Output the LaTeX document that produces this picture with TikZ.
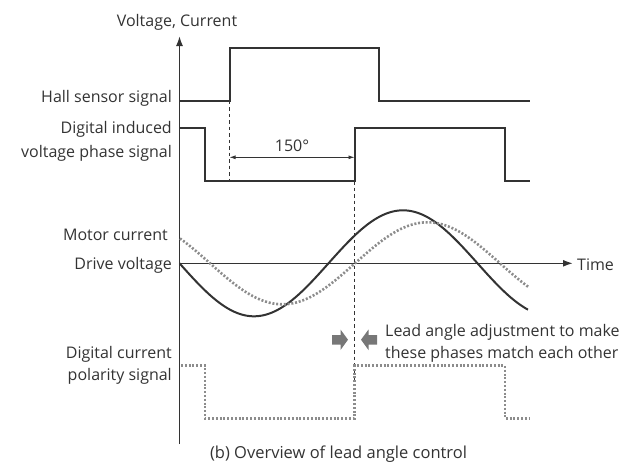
\documentclass[tikz,border=0pt]{standalone}
\usepackage{fontspec}
\setmainfont{Open Sans}
\usetikzlibrary{arrows.meta}
\definecolor{ink}{HTML}{333333}
\definecolor{dotc}{HTML}{8C8C8C}
\definecolor{blk}{HTML}{777777}
\begin{document}
\begin{tikzpicture}[x=1pt,y=-1pt,
  sig/.style={line width=2pt, draw=ink, line join=miter},
  dotsig/.style={line width=2.6pt, draw=dotc, dash pattern=on 2pt off 1.8pt},
  guide/.style={line width=0.9pt, draw=ink, dash pattern=on 3.5pt off 3pt},
  lbl/.style={font=\fontsize{16}{21.5}\selectfont, text=ink, inner sep=0pt},
  axisline/.style={line width=1.6pt, draw=ink, -{Latex[length=10pt,width=7pt]}},
  dim/.style={line width=0.9pt, draw=ink, {Latex[length=6pt,width=4pt]}-{Latex[length=6pt,width=4pt]}},
  blockarrow/.style={fill=blk, draw=none}]
\useasboundingbox (0,0) rectangle (634,464);

% axes
\coordinate (O) at (179.5,263.3);
\coordinate (ybot) at (179.5,444);
\coordinate (ytop) at (179.5,36);
\coordinate (xend) at (573,263.3);
\draw[axisline] (ybot) -- (ytop);
\draw[axisline] (O) -- (xend);

% Hall sensor signal
\draw[sig] (179.5,100.7) -- (229.5,100.7) -- (229.5,48.3) -- (379.3,48.3) -- (379.3,100.7) -- (530,100.7);
% Digital induced voltage phase signal
\draw[sig] (179.5,127.7) -- (205,127.7) -- (205,181) -- (354.5,181) -- (354.5,127.7) -- (505,127.7) -- (505,181) -- (530,181);

% guides
\coordinate (g1a) at (229.5,100.7);
\coordinate (g1b) at (229.5,181);
\coordinate (g2a) at (354.5,181);
\coordinate (g2b) at (354.5,380);
\draw[guide] (g1a) -- (g1b);
\draw[guide] (g2a) -- (g2b);

% 150 degree dimension
\coordinate (d1) at (229.5,157.3);
\coordinate (d2) at (354.5,157.3);
\draw[dim] (d1) -- (d2);
\node[lbl, anchor=base] (deg) at (292,151.7) {150°};

% sine curves
\draw[sig] plot[domain=179.5:528, samples=140, smooth] (\x, {263.3+53*sin((\x-179.5)*1.20805)});
\draw[dotsig] plot[domain=180:529, samples=140, smooth] (\x, {263.3-41*sin((\x-355)*1.24138)});

% Digital current polarity signal
\draw[dotsig] (181,365.7) -- (205,365.7) -- (205,418.3) -- (354.5,418.3) -- (354.5,365.7) -- (505,365.7) -- (505,418.3) -- (529,418.3);

% block arrows
\fill[blockarrow] (332,335) -- (340.5,335) -- (340.5,329.5) -- (348,339.7) -- (340.5,350) -- (340.5,344.5) -- (332,344.5) -- cycle;
\fill[blockarrow] (377,335) -- (368.5,335) -- (368.5,329.5) -- (361,339.7) -- (368.5,350) -- (368.5,344.5) -- (377,344.5) -- cycle;

% labels (base anchor of a multi-line node = baseline of its last line)
\node[lbl, anchor=base] (ylab) at (177,26.7) {Voltage, Current};
\node[lbl, anchor=base east] (hall) at (172,102) {Hall sensor signal};
\node[lbl, anchor=base east, align=right, font=\fontsize{16}{24}\selectfont] (induced) at (172,157) {Digital induced\\voltage phase signal};
\node[lbl, anchor=base east] (motor) at (168,240.7) {Motor current};
\node[lbl, anchor=base east] (drive) at (172,269) {Drive voltage};
\node[lbl, anchor=base east, align=right] (polar) at (172,380) {Digital current\\polarity signal};
\node[lbl, anchor=base west] (time) at (577,270) {Time};
\node[lbl, anchor=base west, align=left] (lead) at (385,358.3) {Lead angle adjustment to make\\these phases match each other};
\node[lbl, anchor=base, font=\fontsize{16.5}{20}\selectfont] (cap) at (338.5,458) {(b) Overview of lead angle control};
\end{tikzpicture}
\end{document}
